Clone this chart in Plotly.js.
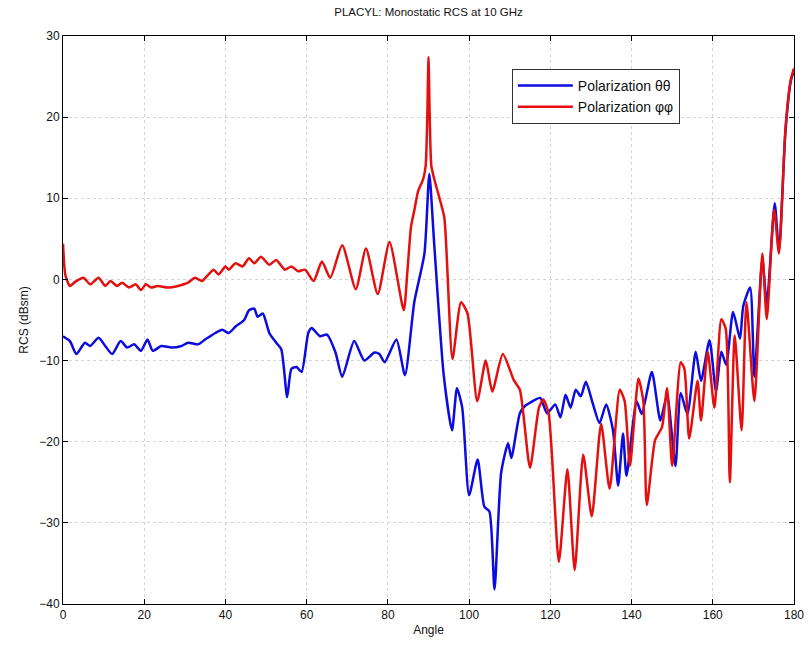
<!DOCTYPE html>
<html>
<head>
<meta charset="utf-8">
<script src="https://cdn.plot.ly/plotly-3.0.1.min.js"></script>
<style>html,body{margin:0;padding:0;background:#fff;}#chart{width:808px;height:661px;}</style>
</head>
<body>
<div id="chart"></div>
<script>
// Polarization theta-theta (blue)
const angleTheta = [0,1.7,3.3,5.4,6.7,8.75,10.4,12.1,14.2,15.8,17.5,19.2,20.8,22.1,24.2,26.7,29.2,30.8,33.3,35,36.25,37.5,39.2,40.8,42.5,44.6,45.8,47.1,47.9,49.2,50.8,52.5,53.75,55.2,56.25,57.5,58.75,60.4,61.25,63.3,65,67.1,68.75,71.7,74.2,76.7,77.9,79.2,82.1,84.2,86.5,89,90.2,91.4,93.75,95.8,97,98.3,100,102.1,103.75,105,106.25,107.9,109.6,110.4,112.5,113.75,115,117.5,119.2,121.2,122.5,123.75,125,126.25,127.5,128.75,130.4,132.1,133.75,135.4,136.7,137.9,138.75,141.25,142.5,145,147.1,148.75,150.8,152.1,153.75,155.8,157.1,159.2,160.8,162.1,163.3,165,166.7,167.5,169.2,170.25,172.2,173.3,175.25,176.3,177.9,179.2,180];
const rcsTheta = [-7,-7.6,-9.2,-7.8,-8.2,-7.2,-8.2,-9.2,-7.6,-8.4,-8,-8.8,-7.4,-8.8,-8.2,-8.4,-8.2,-7.8,-8,-7.4,-7,-6.6,-6.2,-6.6,-5.8,-5,-3.8,-3.6,-4.6,-4.2,-6.6,-7.8,-8.6,-14.5,-11,-10.8,-11.4,-6.6,-6,-7,-6.8,-9,-12,-7.6,-10,-9,-9.2,-10.2,-7.4,-11.8,-2.8,3.2,13,4.4,-11.8,-18.6,-13.4,-15.8,-26.6,-22.2,-28,-28.6,-38.2,-23.8,-20.2,-22,-16.5,-15.6,-15.2,-14.6,-16.5,-15.4,-17,-14.2,-15.8,-13.6,-14.4,-12.6,-15.2,-17.7,-15.4,-18.5,-25.4,-19,-24.2,-15,-16.6,-11.4,-17.4,-14.2,-23,-14,-16.6,-8.9,-12.5,-7.5,-13.8,-8.9,-10.5,-4,-7.3,-3.3,-1,-12,2.5,-3,9.4,3.5,18.3,24.4,25.8];

// Polarization phi-phi (red)
const anglePhi = [0,0.6,1.7,3,5,6.7,8.75,10.4,11.7,13.3,14.6,16.25,17.9,19.2,20.4,21.7,23.3,25.8,28.3,30.8,32.5,34.2,35.8,37.1,38.3,40,40.8,42.5,44.2,45.8,47.1,48.75,50.8,52.5,54.6,56.25,57.9,59.6,61.7,63.75,65.8,68.75,72.1,74.6,77.5,80.4,83.9,84.8,85.7,86.5,87.4,88.7,89.3,89.7,90,90.3,90.7,91.4,92.6,93.9,95.9,98,99.6,102,104.1,105.7,108.3,111,112.5,115,117.2,118.3,119.6,122.1,124.2,126,128.1,130.2,132.5,134.6,137.1,138.3,139.6,141.7,142.9,143.75,145.8,147.5,148.75,150,152.1,153,154.2,156.25,157.1,158.75,160.4,162.1,163.2,164.2,165.4,167.1,168.3,170.25,172.2,173.3,175.1,176.3,177.9,179.2,180];
const rcsPhi = [4.4,0.5,-0.8,-0.3,0.2,-0.6,0.2,-0.8,-0.2,-0.8,-0.4,-1,-0.6,-1.3,-0.6,-1,-0.8,-1,-0.8,-0.4,0.2,-0.2,0.6,1.2,0.6,1.6,1.2,2,1.6,2.6,2,2.8,1.8,2.4,1.2,1.6,1,1.2,-0.2,2.2,0.2,4.2,-1.2,3.8,-1.8,4.6,-3.8,1,6.5,8.5,10.8,12.4,14,20,27.4,20,14,12.4,10.2,7.6,-9.8,-2.8,-4.2,-15,-10,-13.8,-9.2,-12.4,-13.6,-23.2,-15.8,-14.8,-16.6,-34.8,-23.4,-35.8,-21.6,-29.2,-17.8,-25.8,-13.6,-15,-23,-12.2,-15,-27.8,-19.8,-18.2,-13.4,-23,-10.2,-11,-19.6,-12.5,-17.4,-8.9,-15.8,-4.9,-6.1,-25,-6.9,-18.6,-2.8,-15,3.2,-4.9,8.6,3.2,18.6,24.6,26];

const xTicks = [0,20,40,60,80,100,120,140,160,180];
const yTicks = [-40,-30,-20,-10,0,10,20,30];

const traces = [
  {x: angleTheta, y: rcsTheta, type: 'scatter', mode: 'lines', name: 'Polarization θθ',
   line: {color: '#0c0ce0', width: 2.5, shape: 'spline', smoothing: 0.6}},
  {x: anglePhi, y: rcsPhi, type: 'scatter', mode: 'lines', name: 'Polarization φφ',
   line: {color: '#e41010', width: 2.5, shape: 'spline', smoothing: 0.6}}
];

const axisCommon = {
  showline: true, linecolor: '#000', linewidth: 1, mirror: 'ticks',
  ticks: 'inside', ticklen: 5, tickcolor: '#000',
  showgrid: true, gridcolor: '#d4d4d4', griddash: 'dot', gridwidth: 1,
  zeroline: false, tickfont: {size: 12, color: '#111'}
};

const layout = {
  width: 808, height: 661,
  margin: {l: 63, r: 14, t: 36, b: 57},
  paper_bgcolor: '#fff', plot_bgcolor: '#fff',
  font: {family: '"Liberation Sans", Arial, sans-serif', size: 12, color: '#111'},
  title: {text: 'PLACYL: Monostatic RCS at 10 GHz', font: {size: 11.5, color: '#111'},
          x: 0.5, xref: 'paper', y: 0.982, yref: 'container', yanchor: 'middle'},
  xaxis: Object.assign({}, axisCommon, {range: [0, 180], tickvals: xTicks,
          title: {text: 'Angle', font: {size: 12}, standoff: 4}}),
  yaxis: Object.assign({}, axisCommon, {range: [-40, 30], tickvals: yTicks,
          title: {text: 'RCS (dBsm)', font: {size: 12}, standoff: 8}}),
  showlegend: true,
  legend: {x: 0.614, y: 0.942, xanchor: 'left', yanchor: 'top',
           bgcolor: '#fff', bordercolor: '#333', borderwidth: 1, itemwidth: 55,
           font: {size: 14, color: '#111'}, tracegroupgap: 0}
};

Plotly.newPlot('chart', traces, layout, {displayModeBar: false, staticPlot: true});
</script>
</body>
</html>
